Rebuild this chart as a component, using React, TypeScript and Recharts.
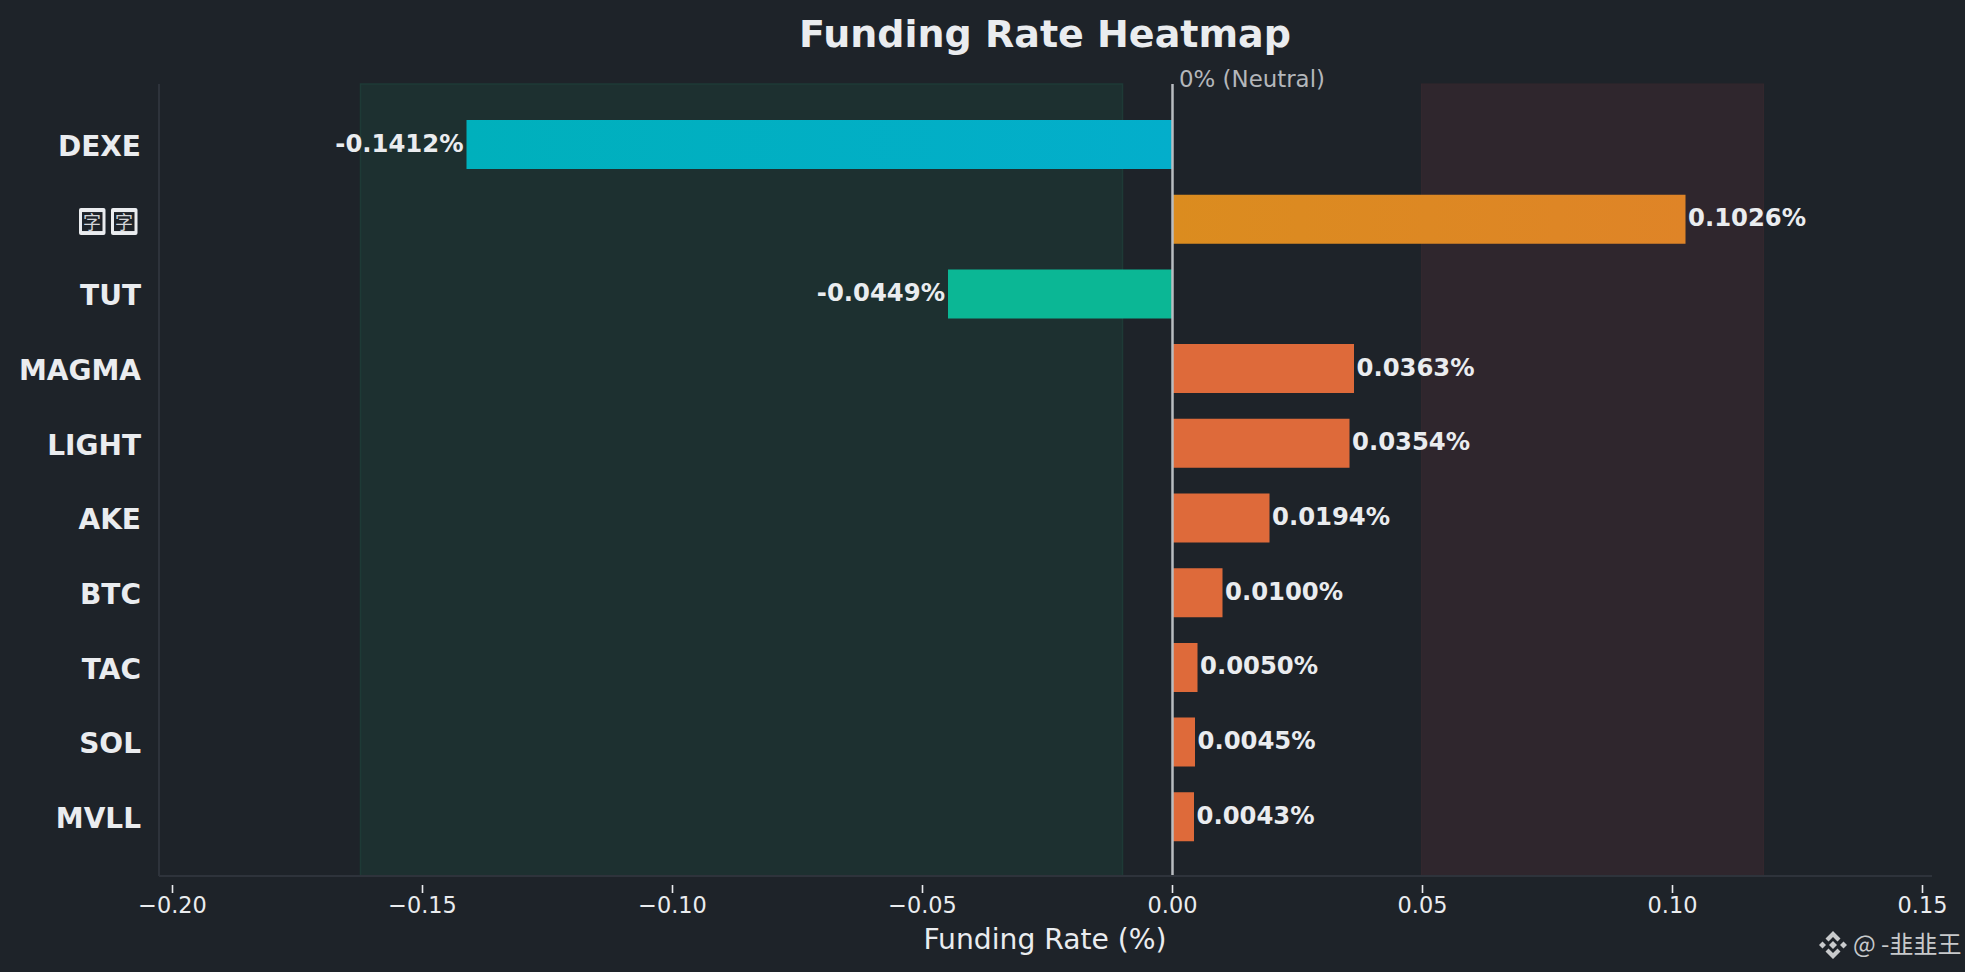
import React from "react";
import { BarChart, Bar, Cell, XAxis, YAxis, ReferenceArea, ReferenceLine, LabelList } from "recharts";

const symbols = ["DEXE", "字字", "TUT", "MAGMA", "LIGHT", "AKE", "BTC", "TAC", "SOL", "MVLL"];
const rates = [-0.1412, 0.1026, -0.0449, 0.0363, 0.0354, 0.0194, 0.01, 0.005, 0.0045, 0.0043];
const barStart = ["#00B0BC", "#DB8C1F", "#0BB795", "#DE6A3A", "#DE6A3A", "#DE6A3A", "#DE6A3A", "#DE6A3A", "#DE6A3A", "#DE6A3A"];
const barEnd = ["#03AECB", "#DF8427", "#0BB795", "#DE6A3A", "#DE6A3A", "#DE6A3A", "#DE6A3A", "#DE6A3A", "#DE6A3A", "#DE6A3A"];
const xTicks = [-0.2, -0.15, -0.1, -0.05, 0, 0.05, 0.1, 0.15];
const xDomain = [-0.2027, 0.1519];
const greenZone = [-0.1624, -0.01];
const redZone = [0.0498, 0.1182];

const data = symbols.map((symbol, i) => ({ symbol, rate: rates[i] }));
const FONT = "'DejaVu Sans', sans-serif";
const BG = "#1E2329";
const TEXT = "#EAECEF";
const SPINE = "#2E333B";
const PAD_TOP = 23;
const PAD_BOTTOM = 22;

const XTick = (p: any) => {
  const v = p.payload.value;
  const s = (v < 0 ? "\u2212" : "") + Math.abs(v).toFixed(2);
  return (
    <g>
      <line x1={p.x} x2={p.x} y1={p.y + 1} y2={p.y + 9} stroke={TEXT} strokeWidth={1.6} />
      <text x={p.x} y={p.y + 29} textAnchor="middle" fontFamily={FONT} fontSize={22.4} fill={TEXT}>{s}</text>
    </g>
  );
};

const YTick = (p: any) => {
  const v = p.payload.value;
  if (v === "字字") {
    const boxes = [p.x - 62, p.x - 30];
    return (
      <g>
        {boxes.map((bx) => (
          <g key={bx}>
            <rect x={bx} y={p.y - 11} width={26.5} height={27} rx={2} fill={TEXT} />
            <rect x={bx + 3} y={p.y - 7} width={20.5} height={19} fill={BG} />
          </g>
        ))}
        <text y={p.y + 10} fontFamily="'Noto Sans CJK SC'" fontSize={18} fill="#D4D6DA" textAnchor="start">
          <tspan x={boxes[0] + 4}>字</tspan>
          <tspan x={boxes[1] + 4}>字</tspan>
        </text>
      </g>
    );
  }
  return (
    <text x={p.x} y={p.y + 11.5} textAnchor="end" fontFamily={FONT} fontWeight="bold" fontSize={28} fill={TEXT}>{v}</text>
  );
};

const ValueLabel = (p: any) => {
  const neg = p.value < 0;
  const a = Math.min(p.x, p.x + p.width);
  const b = Math.max(p.x, p.x + p.width);
  return (
    <text
      x={neg ? a - 3 : b + 2.5}
      y={p.y + p.height / 2 + 7}
      textAnchor={neg ? "end" : "start"}
      fontFamily={FONT}
      fontWeight="bold"
      fontSize={24.3}
      fill={TEXT}
    >
      {(neg ? "-" : "") + Math.abs(p.value).toFixed(4) + "%"}
    </text>
  );
};

const Zone = (p: any) => (
  <rect x={p.x} y={p.y - PAD_TOP} width={p.width} height={p.height + PAD_TOP + PAD_BOTTOM} fill={p.fill} stroke={p.stroke} strokeWidth={p.strokeWidth} />
);

const ZeroLine = (p: any) => (
  <line x1={p.x1} x2={p.x2} y1={p.y1} y2={p.y2} stroke="#B9BCC0" strokeWidth={2.5} />
);

export default function App() {
  return (
    <div style={{ position: "absolute", left: 0, top: 0, width: 1965, height: 972, background: BG, overflow: "hidden" }}>
      <BarChart
        width={1965}
        height={972}
        data={data}
        layout="vertical"
        margin={{ top: 84, right: 33, bottom: 0, left: 0 }}
        style={{ background: BG }}
      >
        <defs>
          {symbols.map((s, i) => (
            <linearGradient key={s} id={`bar-${i}`} x1="0" y1="0" x2="1" y2="0">
              <stop offset="0" stopColor={barStart[i]} />
              <stop offset="1" stopColor={barEnd[i]} />
            </linearGradient>
          ))}
        </defs>
        <XAxis
          type="number"
          dataKey="rate"
          domain={xDomain}
          ticks={xTicks}
          allowDataOverflow
          height={96}
          interval={0}
          tick={<XTick />}
          tickLine={false}
          axisLine={{ stroke: SPINE, strokeWidth: 2 }}
        />
        <YAxis
          type="category"
          dataKey="symbol"
          width={159}
          padding={{ top: PAD_TOP, bottom: PAD_BOTTOM }}
          interval={0}
          tick={<YTick />}
          tickLine={false}
          tickMargin={12}
          axisLine={{ stroke: SPINE, strokeWidth: 2 }}
        />
        <ReferenceArea x1={greenZone[0]} x2={greenZone[1]} fill="#1D3030" stroke="#1E3A36" strokeWidth={1.5} ifOverflow="visible" shape={<Zone />} />
        <ReferenceArea x1={redZone[0]} x2={redZone[1]} fill="#2F262D" stroke="#33272D" strokeWidth={1} ifOverflow="visible" shape={<Zone />} />
        <Bar dataKey="rate" barSize={49} isAnimationActive={false}>
          {data.map((d, i) => (
            <Cell key={d.symbol} fill={`url(#bar-${i})`} />
          ))}
          <LabelList dataKey="rate" content={<ValueLabel />} />
        </Bar>
        <ReferenceLine x={0} shape={<ZeroLine />} />
        <text x={1179} y={87} fontFamily={FONT} fontSize={22.9} fill="#B4B7BB">0% (Neutral)</text>
        <text x={1045} y={47} textAnchor="middle" fontFamily={FONT} fontWeight="bold" fontSize={38} fill={TEXT}>Funding Rate Heatmap</text>
        <text x={1045} y={949} textAnchor="middle" fontFamily={FONT} fontSize={28.2} fill={TEXT}>Funding Rate (%)</text>
        <g fill="#C8CACC">
          <path d="M1833 931 l7.5 7.5 -3 3 -4.5 -4.5 -4.5 4.5 -3 -3 z" />
          <path d="M1833 959 l7.5 -7.5 -3 -3 -4.5 4.5 -4.5 -4.5 -3 3 z" />
          <path d="M1833 941 l4 4 -4 4 -4 -4 z" />
          <path d="M1822.5 941.5 l3.5 3.5 -3.5 3.5 -3.5 -3.5 z" />
          <path d="M1843.5 941.5 l3.5 3.5 -3.5 3.5 -3.5 -3.5 z" />
        </g>
        <text x={1853} y={953} fontFamily="'Noto Sans CJK SC', 'DejaVu Sans'" fontSize={24} fill="#C8CACC">@ -韭韭王</text>
      </BarChart>
    </div>
  );
}
